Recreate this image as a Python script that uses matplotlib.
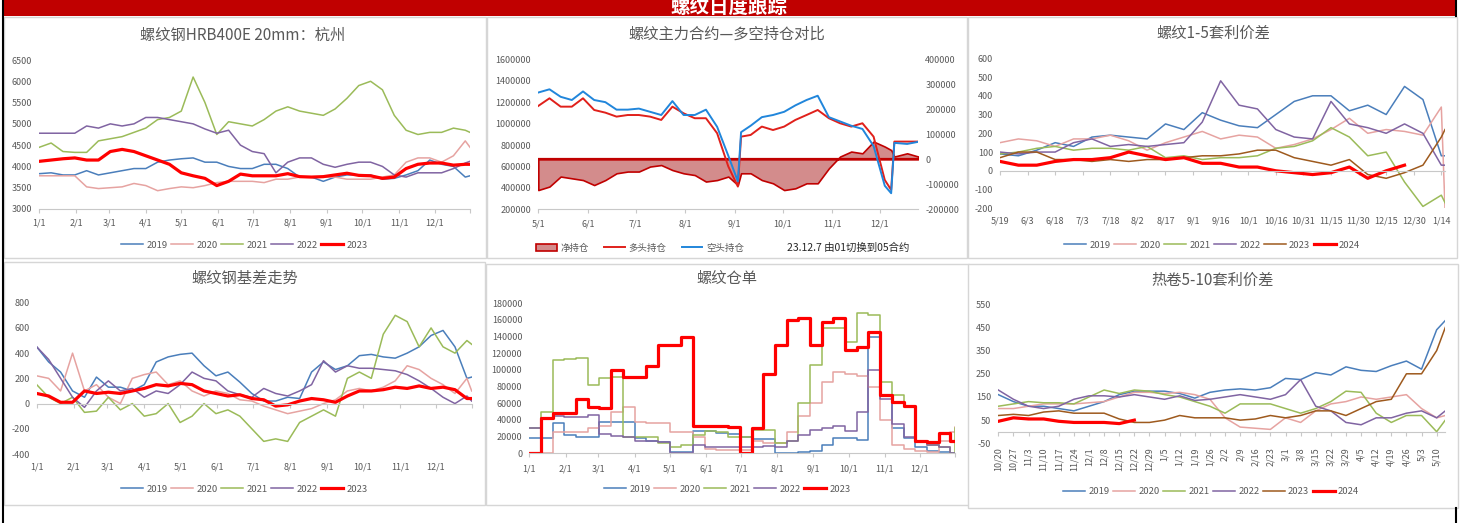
import matplotlib
matplotlib.use('Agg')
import matplotlib.pyplot as plt
import numpy as np
from matplotlib.patches import Rectangle, Patch
from matplotlib.lines import Line2D

plt.rcParams['font.family'] = ['Noto Sans CJK SC', 'DejaVu Sans']
plt.rcParams['axes.unicode_minus'] = False

W, H = 1467, 523
nan = np.nan

# ---------------- data ----------------
years5 = ['2019', '2020', '2021', '2022', '2023']
years6 = ['2019', '2020', '2021', '2022', '2023', '2024']

month_days = [0, 31, 59, 90, 120, 151, 181, 212, 243, 273, 304, 334, 364]
month_labels = ['1/1', '2/1', '3/1', '4/1', '5/1', '6/1', '7/1', '8/1', '9/1', '10/1', '11/1', '12/1', '']

# day of year, every 10 days + last day
year_days = list(range(0, 361, 10)) + [364]

# panel 1: 螺纹钢HRB400E 20mm 杭州 (yuan/t)
p1_2019 = [3830, 3850, 3800, 3800, 3900, 3800, 3850, 3900, 3950, 3950, 4100, 4150, 4180, 4200, 4100, 4100, 4000, 3950, 3950, 4050,
           4050, 3950, 3750, 3750, 3650, 3750, 3800, 3800, 3800, 3700, 3720, 3800, 3900, 4150, 4050, 4000, 3750, 3780]
p1_2020 = [3780, 3780, 3780, 3780, 3520, 3480, 3500, 3520, 3600, 3550, 3430, 3480, 3520, 3500, 3550, 3620, 3650, 3650, 3650, 3620,
           3700, 3700, 3750, 3750, 3750, 3750, 3700, 3700, 3700, 3750, 3800, 4100, 4200, 4200, 4100, 4250, 4600, 4450]
p1_2021 = [4450, 4550, 4350, 4330, 4330, 4600, 4650, 4700, 4800, 4900, 5100, 5150, 5300, 6100, 5500, 4750, 5050, 5000, 4950, 5100,
           5300, 5400, 5300, 5250, 5200, 5350, 5600, 5900, 6000, 5800, 5200, 4850, 4750, 4800, 4800, 4900, 4850, 4800]
p1_2022 = [4780, 4780, 4780, 4780, 4950, 4900, 5000, 4950, 5000, 5150, 5150, 5100, 5050, 5000, 4880, 4780, 4850, 4500, 4350, 4300,
           3850, 4100, 4200, 4200, 4050, 3980, 4050, 4100, 4100, 4000, 3800, 3750, 3850, 3850, 3850, 3950, 4080, 4120]
p1_2023 = [4120, 4150, 4180, 4200, 4150, 4150, 4350, 4400, 4350, 4250, 4150, 4050, 3850, 3780, 3720, 3550, 3650, 3820, 3780, 3780,
           3780, 3830, 3760, 3750, 3760, 3800, 3840, 3790, 3780, 3720, 3750, 3950, 4050, 4080, 4080, 4030, 4050, 4050]

# panel 2: 主力合约多空持仓 (days from 5/1)
p2_days = [0, 7, 14, 21, 28, 35, 42, 49, 56, 63, 70, 77, 84, 91, 98, 105, 112, 119, 125, 127, 133, 140, 147, 154, 161, 168,
           175, 182, 189, 196, 203, 210, 217, 221, 223, 231, 238]
p2_short = [1290000, 1320000, 1250000, 1220000, 1300000, 1220000, 1200000, 1130000, 1130000, 1140000, 1110000, 1080000,
            1210000, 1080000, 1080000, 1130000, 970000, 700000, 460000, 920000, 980000, 1060000, 1080000, 1110000, 1170000,
            1220000, 1260000, 1060000, 1020000, 980000, 950000, 790000, 420000, 350000, 820000, 810000, 830000]
p2_long = [1165000, 1236000, 1158000, 1158000, 1236000, 1127000, 1102000, 1065000, 1080000, 1080000, 1065000, 1034000,
           1158000, 1096000, 1050000, 1050000, 910000, 600000, 412000, 878000, 894000, 972000, 940000, 972000, 1034000,
           1080000, 1127000, 1050000, 1003000, 972000, 1003000, 878000, 474000, 381000, 832000, 832000, 832000]
p2_net = [-123000, -109000, -69000, -76000, -83000, -103000, -83000, -56000, -49000, -49000, -29000, -23000, -43000,
          -56000, -63000, -89000, -83000, -69000, -103000, -56000, -56000, -83000, -96000, -123000, -116000, -96000,
          -96000, -36000, 11000, 31000, 24000, 71000, 51000, 37000, 11000, 24000, 11000]
p2_ticks = [0, 31, 61, 92, 123, 153, 184, 214]
p2_labels = ['5/1', '6/1', '7/1', '8/1', '9/1', '10/1', '11/1', '12/1']

# panel 3: 螺纹1-5套利价差 (days from 5/19)
p3_days = list(range(0, 241, 10)) + [242]
p3_ticks = list(range(0, 241, 15))
p3_labels = ['5/19', '6/3', '6/18', '7/3', '7/18', '8/2', '8/17', '9/1', '9/16', '10/1', '10/16', '10/31', '11/15',
             '11/30', '12/15', '12/30', '1/14']
p3_2019 = [90, 80, 110, 150, 130, 180, 190, 180, 170, 250, 220, 310, 270, 240, 230, 300, 370, 400, 400, 320, 350, 300, 450, 380, 80, 80]
p3_2020 = [150, 170, 160, 130, 170, 170, 190, 160, 110, 150, 180, 210, 170, 190, 180, 120, 140, 170, 220, 280, 200, 220, 210, 190, 340, -200]
p3_2021 = [90, 100, 120, 130, 110, 120, 120, 110, 130, 70, 80, 60, 70, 70, 80, 120, 130, 160, 230, 180, 80, 100, -60, -190, -130, -170]
p3_2022 = [100, 90, 100, 100, 150, 170, 130, 140, 130, 140, 150, 260, 480, 350, 330, 220, 180, 170, 370, 250, 230, 200, 250, 200, 30, 30]
p3_2023 = [70, 100, 100, 60, 60, 50, 60, 50, 60, 60, 70, 80, 80, 90, 110, 110, 70, 50, 30, 60, -20, -40, -10, 30, 180, 220]
p3_2024 = [50, 30, 30, 50, 60, 60, 70, 100, 80, 60, 70, 40, 40, 20, 20, 0, -10, -20, -10, 20, -40, 0, 30, nan, nan, nan]

# panel 4: 螺纹钢基差
p4_2019 = [450, 330, 250, 100, 50, 210, 130, 130, 100, 150, 330, 370, 390, 400, 300, 220, 250, 170, 80, 20,
           20, 50, 40, 250, 330, 270, 300, 380, 390, 370, 360, 400, 450, 540, 580, 450, 200, 210]
p4_2020 = [220, 200, 100, 400, 100, 150, 50, 0, 200, 230, 250, 150, 180, 100, 60, 100, 80, 30, 20, -20,
           -50, -80, -60, -40, 0, 30, 100, 120, 100, 130, 180, 300, 270, 200, 150, 80, 200, 100]
p4_2021 = [150, 50, 0, 50, -70, -60, 50, -50, 0, -100, -80, 0, -150, -100, 0, -80, -50, -100, -200, -300,
           -280, -300, -150, -100, -50, -100, 200, 250, 200, 550, 700, 650, 450, 600, 450, 400, 500, 470]
p4_2022 = [450, 350, 200, 50, -30, 100, 180, 100, 120, 50, 100, 80, 150, 250, 200, 180, 100, 70, 50, 120,
           80, 60, 100, 150, 340, 250, 300, 280, 280, 270, 260, 230, 180, 120, 50, 0, 60, 20]
p4_2023 = [80, 60, 10, 10, 100, 80, 90, 80, 100, 120, 150, 140, 160, 150, 100, 80, 60, 70, 40, 30,
           -20, -10, 20, 40, 30, 10, 60, 100, 100, 110, 130, 120, 140, 120, 130, 110, 40, 40]

# panel 5: 螺纹仓单
p5_2019 = [18000, 18000, 36000, 22000, 20000, 20000, 38000, 38000, 38000, 18000, 15000, 14000, 2000, 2000, 27000, 27000,
           24000, 23000, 20000, 17000, 17000, 0, 0, 2000, 3000, 10000, 18000, 18000, 16000, 140000, 70000, 30000, 18000,
           8000, 3000, 2000, 0, 0]
p5_2020 = [0, 0, 25000, 25000, 25000, 30000, 33000, 50000, 56000, 38000, 36000, 36000, 25000, 25000, 20000, 5000,
           4000, 4000, 4000, 15000, 12000, 12000, 25000, 45000, 60000, 85000, 98000, 95000, 93000, 80000, 40000, 10000,
           5000, 3000, 2000, 15000, 25000, 32000]
p5_2021 = [30000, 50000, 112000, 113000, 114000, 82000, 90000, 92000, 20000, 20000, 20000, 12000, 8000, 10000, 22000,
           27000, 26000, 20000, 20000, 28000, 28000, 12000, 15000, 60000, 106000, 150000, 150000, 133000, 168000, 166000,
           85000, 70000, 55000, 15000, 10000, 8000, 0, 30000]
p5_2022 = [30000, 42000, 45000, 43000, 43000, 46000, 23000, 21000, 20000, 15000, 15000, 14000, 0, 0, 10000, 7000,
           7000, 7000, 7000, 8000, 9000, 8000, 15000, 22000, 28000, 30000, 33000, 27000, 50000, 100000, 65000, 35000,
           20000, 15000, 10000, 8000, 0, 0]
p5_2023 = [0, 42000, 48000, 48000, 65000, 55000, 54000, 100000, 92000, 92000, 105000, 130000, 130000, 140000, 33000,
           33000, 33000, 32000, 0, 30000, 95000, 130000, 160000, 162000, 130000, 158000, 162000, 124000, 127000, 145000,
           70000, 62000, 57000, 15000, 14000, 24000, 15000, nan]

# panel 6: 热卷5-10套利价差 (days from 10/20)
p6_days = list(range(0, 204, 7)) + [207]
p6_labels = ['10/20', '10/27', '11/3', '11/10', '11/17', '11/24', '12/1', '12/8', '12/15', '12/22', '12/29', '1/5',
             '1/12', '1/19', '1/26', '2/2', '2/9', '2/16', '2/23', '3/1', '3/8', '3/15', '3/22', '3/29', '4/5', '4/12',
             '4/19', '4/26', '5/3', '5/10']
p6_2019 = [160, 130, 110, 110, 100, 90, 110, 130, 160, 175, 175, 175, 165, 145, 170, 180, 185, 180, 190, 230,
           225, 255, 245, 280, 265, 260, 285, 305, 270, 440, 480]
p6_2020 = [100, 100, 110, 120, 120, 120, 125, 130, 150, 170, 170, 165, 170, 160, 140, 60, 20, 15, 10, 60,
           40, 90, 120, 130, 150, 140, 150, 160, 100, 60, 70]
p6_2021 = [110, 120, 130, 125, 125, 120, 150, 180, 165, 180, 175, 160, 150, 130, 110, 80, 120, 120, 120, 100,
           80, 100, 130, 175, 170, 80, 40, 70, 70, 0, 50]
p6_2022 = [180, 140, 110, 100, 110, 140, 155, 155, 150, 160, 150, 140, 155, 135, 140, 150, 160, 150, 140, 160,
           225, 110, 90, 40, 30, 60, 60, 80, 90, 60, 90]
p6_2023 = [70, 75, 70, 85, 90, 80, 80, 80, 55, 40, 40, 50, 70, 60, 60, 60, 50, 55, 70, 60,
           70, 90, 90, 70, 100, 130, 140, 250, 250, 350, 450]
p6_2024 = [45, 60, 55, 55, 45, 40, 40, 40, 35, 50] + [nan] * 21

# ---------------- style ----------------
c_blue = '#4A7EBB'
c_pink = '#E6A3A1'
c_green = '#9BBB59'
c_purple = '#8064A2'
c_brown = '#9E5A1E'
c_red = '#FF0000'
cols5 = [c_blue, c_pink, c_green, c_purple, c_red]
cols6 = [c_blue, c_pink, c_green, c_purple, c_brown, c_red]
txt = '#595959'

fig = plt.figure(figsize=(W / 100, H / 100), dpi=100)


def px_ax(l, t, r, b):
    return fig.add_axes([l / W, 1 - b / H, (r - l) / W, (b - t) / H])


def box(l, t, r, b):
    fig.patches.append(Rectangle((l / W, 1 - b / H), (r - l) / W, (b - t) / H, transform=fig.transFigure,
                                 facecolor='white', edgecolor='#d6d6d6', lw=1.0, zorder=-10))


def title(x, y, s):
    fig.text(x / W, 1 - y / H, s, ha='center', va='center', fontsize=11, color=txt)


def style(ax, xlim, xticks, xlabels, ylim, yticks, zero=False, rot=0, lpad=4):
    ax.set_xlim(*xlim)
    ax.set_ylim(*ylim)
    ax.set_yticks(yticks)
    ax.set_yticklabels([str(v) for v in yticks])
    for s in ('top', 'right', 'left'):
        ax.spines[s].set_visible(False)
    ax.spines['bottom'].set_color('#c8c8c8')
    ax.tick_params(axis='y', length=0, labelsize=6.5, labelcolor=txt, pad=5)
    ax.set_xticks(xticks)
    ax.tick_params(axis='x', length=3, width=0.8, color='#c8c8c8', labelsize=6.5, labelcolor=txt, pad=lpad)
    ax.patch.set_visible(False)
    if zero:
        ax.spines['bottom'].set_position(('data', 0))
        ax.tick_params(axis='x', labelbottom=False)
        sec = ax.secondary_xaxis('bottom')
        sec.set_xticks(xticks, labels=xlabels, rotation=rot)
        sec.tick_params(length=0, labelsize=6.5, labelcolor=txt, pad=lpad)
        sec.spines['bottom'].set_visible(False)
    else:
        ax.set_xticklabels(xlabels, rotation=rot)


def legend(ax, cx, cy, ncol):
    ax.legend(loc='center', bbox_to_anchor=(cx / W, 1 - cy / H), bbox_transform=fig.transFigure, ncol=ncol,
              frameon=False, fontsize=6.8, labelcolor=txt, handlelength=2.4, handletextpad=0.3,
              columnspacing=0.35, borderpad=0)


# panel frames + banner
box(3.5, 17, 486, 258)
box(487, 17, 967, 258)
box(968, 17, 1457, 258)
box(3.5, 262, 485, 505)
box(486, 264, 969, 505)
box(968, 264, 1458, 508)
fig.patches.append(Rectangle((3 / W, 1 - 16 / H), 1452 / W, 16 / H, transform=fig.transFigure,
                             facecolor='#C00000', edgecolor='none', zorder=1))
fig.text(729 / W, 1 - 7.5 / H, '螺纹日度跟踪', ha='center', va='center', fontsize=14, fontweight='bold',
         color='white', zorder=2)
fig.lines.append(Line2D([2.5 / W, 2.5 / W], [0, 1], transform=fig.transFigure, color='black', lw=1.5))
fig.lines.append(Line2D([1455.5 / W, 1455.5 / W], [1 - 16 / H, 1], transform=fig.transFigure, color='black', lw=1.5))
fig.lines.append(Line2D([1455.5 / W, 1455.5 / W], [0, 1 - 508 / H], transform=fig.transFigure, color='black', lw=1.5))

# ---- panel 1
ax1 = px_ax(39.3, 60, 470, 209)
for yr, vals, c in zip(years5, [p1_2019, p1_2020, p1_2021, p1_2022, p1_2023], cols5):
    ax1.plot(year_days, vals, color=c, lw=2.3 if yr == '2023' else 1.1, label=yr)
style(ax1, (0, 364), month_days, month_labels, (3000, 6500), list(range(3000, 6501, 500)))
title(243, 35, '螺纹钢HRB400E 20mm：杭州')
legend(ax1, 244, 245, 5)

# ---- panel 2
ax2 = px_ax(538.3, 59.3, 918.3, 209.3)
ax2r = ax2.twinx()
ax2r.fill_between(p2_days, 0, p2_net, facecolor='#D38C8C', edgecolor='#C00000', lw=1.2)
ax2r.axhline(0, color='#C00000', lw=1.6)
ax2.plot(p2_days, p2_long, color='#E0201B', lw=1.4)
ax2.plot(p2_days, p2_short, color='#2186DB', lw=1.4)
ax2.set_zorder(ax2r.get_zorder() + 1)
style(ax2, (0, 238), p2_ticks, p2_labels, (200000, 1600000), list(range(200000, 1600001, 200000)))
ax2r.set_ylim(-200000, 400000)
ax2r.set_yticks(list(range(-200000, 400001, 100000)))
ax2r.set_yticklabels([str(v) for v in range(-200000, 400001, 100000)])
for s in ('top', 'right', 'left', 'bottom'):
    ax2r.spines[s].set_visible(False)
ax2r.tick_params(axis='y', length=0, labelsize=6.5, labelcolor=txt, pad=5)
title(727, 34, '螺纹主力合约—多空持仓对比')
h2 = [Patch(facecolor='#D38C8C', edgecolor='#C00000', lw=1.2),
      Line2D([], [], color='#E0201B', lw=1.4), Line2D([], [], color='#2186DB', lw=1.4)]
ax2.legend(h2, ['净持仓', '多头持仓', '空头持仓'], loc='center', bbox_to_anchor=(640 / W, 1 - 248 / H),
           bbox_transform=fig.transFigure, ncol=3, frameon=False, fontsize=6.8, labelcolor=txt,
           handlelength=2.2, handletextpad=0.4, columnspacing=1.6, borderpad=0)
fig.text(787 / W, 1 - 248 / H, '23.12.7 由01切换到05合约', ha='left', va='center', fontsize=7.5, color='#262626')

# ---- panel 3
ax3 = px_ax(1000, 58.3, 1445, 208.3)
for yr, vals, c in zip(years6, [p3_2019, p3_2020, p3_2021, p3_2022, p3_2023, p3_2024], cols6):
    ax3.plot(p3_days, vals, color=c, lw=2.3 if yr == '2024' else 1.1, label=yr)
style(ax3, (0, 242), p3_ticks, p3_labels, (-200, 600), list(range(-200, 601, 100)), zero=True, lpad=6)
title(1213, 33, '螺纹1-5套利价差')
legend(ax3, 1212, 245, 6)

# ---- panel 4
ax4 = px_ax(36.7, 302.7, 471.7, 454)
for yr, vals, c in zip(years5, [p4_2019, p4_2020, p4_2021, p4_2022, p4_2023], cols5):
    ax4.plot(year_days, vals, color=c, lw=2.3 if yr == '2023' else 1.1, label=yr)
style(ax4, (0, 364), month_days, month_labels, (-400, 800), list(range(-400, 801, 200)), zero=True, lpad=6)
title(245, 278, '螺纹钢基差走势')
legend(ax4, 244, 489, 5)

# ---- panel 5 (receipts move in steps)
ax5 = px_ax(529.3, 303.3, 955, 453.3)
for yr, vals, c in zip(years5, [p5_2019, p5_2020, p5_2021, p5_2022, p5_2023], cols5):
    ax5.plot(year_days, vals, color=c, lw=2.3 if yr == '2023' else 1.1, label=yr, drawstyle='steps-post')
style(ax5, (0, 364), month_days, month_labels, (0, 180000), list(range(0, 180001, 20000)), lpad=5)
title(727, 278, '螺纹仓单')
legend(ax5, 727, 489, 5)

# ---- panel 6
ax6 = px_ax(998.3, 304.3, 1445.3, 443.3)
for yr, vals, c in zip(years6, [p6_2019, p6_2020, p6_2021, p6_2022, p6_2023, p6_2024], cols6):
    ax6.plot(p6_days, vals, color=c, lw=2.3 if yr == '2024' else 1.1, label=yr)
style(ax6, (0, 207), p6_days[:-1], p6_labels, (-50, 550), list(range(-50, 551, 100)), zero=True, rot=90, lpad=3)
title(1213, 280, '热卷5-10套利价差')
legend(ax6, 1211, 492, 6)

fig.savefig('out.png', dpi=100)
